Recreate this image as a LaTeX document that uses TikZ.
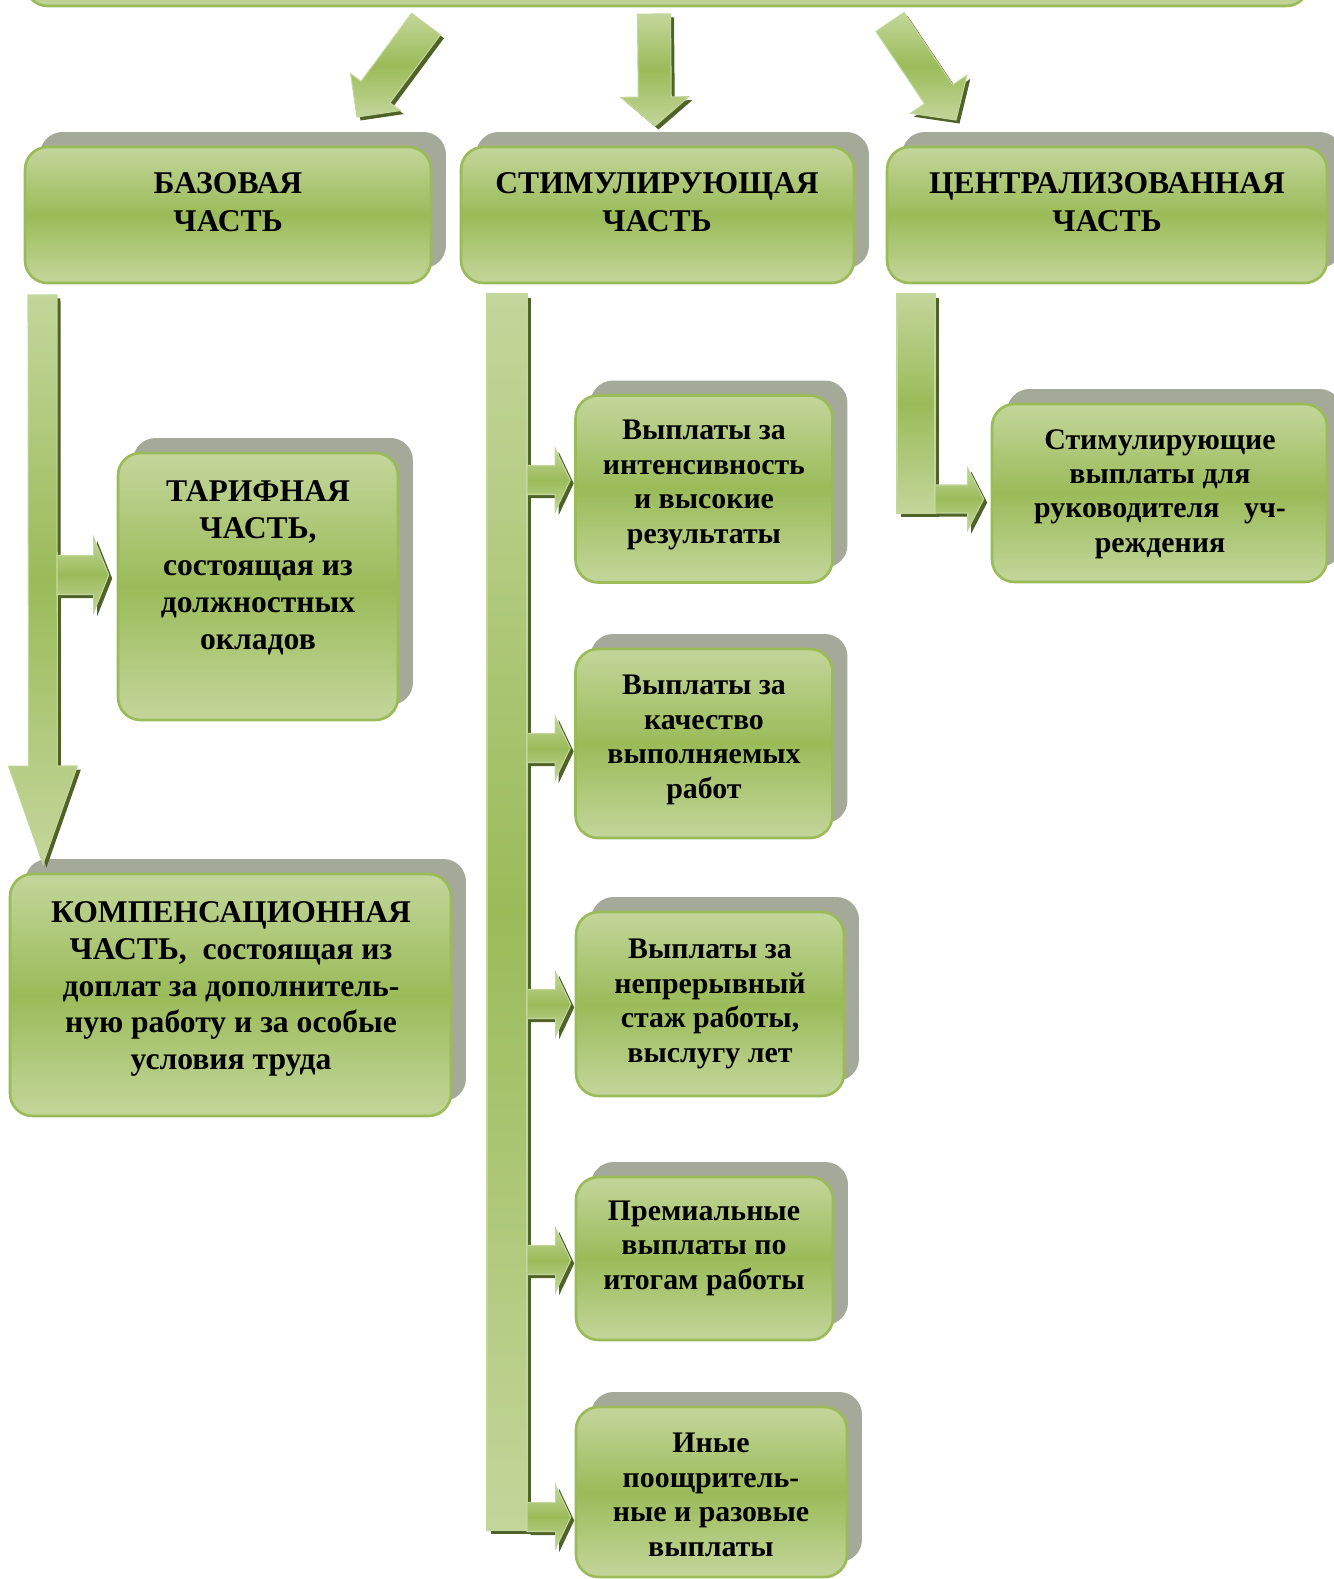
\documentclass[tikz,border=0pt]{standalone}
\usepackage{fontspec}
\setmainfont{Liberation Serif}
\usetikzlibrary{positioning, calc, shadows}
\definecolor{MyOliveLight}{HTML}{C3D69B}
\definecolor{MyOlive}{HTML}{9BBB59}
\definecolor{MyOliveDark}{HTML}{4F6228}
\definecolor{MyShadow}{HTML}{A5A99A}

% block arrow: from, to, half shaft, half head, head length
\newcommand{\flowarrow}[5]{%
	\path[flow] ($(#1)!#3!90:(#2)$) -- ($(#2)!#5!(#1)!#3!-90:(#1)$) -- ($(#2)!#5!(#1)!#4!-90:(#1)$) -- (#2)
		-- ($(#2)!#5!(#1)!#4!90:(#1)$) -- ($(#2)!#5!(#1)!#3!90:(#1)$) -- ($(#1)!#3!-90:(#2)$) -- cycle;}

\begin{document}
\begin{tikzpicture}[x=0.02cm, y=-0.02cm,
	part/.style={draw=MyOlive, line width=1.5pt, rounded corners=0.45cm, inner sep=0pt, top color=MyOliveLight, bottom color=MyOliveLight, middle color=MyOlive, general shadow={fill=MyShadow, shadow xshift=0.3cm, shadow yshift=0.3cm}},
	flow/.style={draw=MyOliveLight, line width=0.6pt, top color=MyOliveLight, bottom color=MyOliveLight, middle color=MyOlive, preaction={fill=MyOliveDark, transform canvas={xshift=0.07cm, yshift=-0.07cm}}},
	headtext/.style={inner sep=0pt, align=center, font=\bfseries\fontsize{18}{21.5}\selectfont},
	bigtext/.style={inner sep=0pt, align=center, font=\bfseries\fontsize{18}{21}\selectfont},
	paytext/.style={inner sep=0pt, align=center, font=\bfseries\fontsize{17}{19.6}\selectfont}]
	\useasboundingbox (0,0) rectangle (1334,1579);
	
	\node[part, minimum width=25.68cm, minimum height=2cm] (fund) at (667,-44) {};
	%
	\node[part, minimum width=8.12cm, minimum height=2.72cm] (base) at (228,215) {};
	\node[headtext] (base-t) at (228,202) {БАЗОВАЯ\\ЧАСТЬ};
	%
	\node[part, minimum width=7.86cm, minimum height=2.72cm] (stim) at (657.5,215) {};
	\node[headtext] (stim-t) at (657,202) {СТИМУЛИРУЮЩАЯ\\ЧАСТЬ};
	%
	\node[part, minimum width=8.8cm, minimum height=2.72cm] (centr) at (1107,215) {};
	\node[headtext] (centr-t) at (1107,202) {ЦЕНТРАЛИЗОВАННАЯ\\ЧАСТЬ};
	%
	\node[part, minimum width=5.6cm, minimum height=5.34cm] (tarif) at (258,586.5) {};
	\node[bigtext] (tarif-t) at (258,568) {ТАРИФНАЯ\\ЧАСТЬ,\\состоящая из\\должностных\\окладов};
	%
	\node[part, minimum width=8.82cm, minimum height=4.84cm] (comp) at (230.5,995) {};
	\node[bigtext] (comp-t) at (231,989) {КОМПЕНСАЦИОННАЯ\\ЧАСТЬ,\ \ состоящая из\\доплат за дополнитель-\\ную работу и за особые\\условия труда};
	%
	\node[part, minimum width=5.14cm, minimum height=3.74cm] (pay1) at (704,489) {};
	\node[paytext] (pay1-t) at (704,485) {Выплаты за\\интенсивность\\и высокие\\результаты};
	%
	\node[part, minimum width=5.14cm, minimum height=3.78cm] (pay2) at (704,743.5) {};
	\node[paytext] (pay2-t) at (704,740) {Выплаты за\\качество\\выполняемых\\работ};
	%
	\node[part, minimum width=5.36cm, minimum height=3.68cm] (pay3) at (710,1004) {};
	\node[paytext] (pay3-t) at (710,1004) {Выплаты за\\непрерывный\\стаж работы,\\выслугу лет};
	%
	\node[part, minimum width=5.14cm, minimum height=3.26cm] (pay4) at (704.5,1258.5) {};
	\node[paytext] (pay4-t) at (704,1248) {Премиальные\\выплаты по\\итогам работы};
	%
	\node[part, minimum width=5.42cm, minimum height=3.4cm] (pay5) at (711.5,1492) {};
	\node[paytext] (pay5-t) at (711,1495) {Иные\\поощритель-\\ные и разовые\\выплаты};
	%
	\node[part, minimum width=6.7cm, minimum height=3.56cm] (head) at (1159.5,493) {};
	\node[paytext] (head-t) at (1160,494) {Стимулирующие\\выплаты для\\руководителя\hspace{14pt}уч-\\реждения};
	
	% arrows from the top block
	\coordinate (fund-l) at (426,24);
	\coordinate (base-in) at (357,117);
	\flowarrow{fund-l}{base-in}{0.36cm}{0.62cm}{0.62cm}
	%
	\coordinate (fund-m) at (654,14);
	\coordinate (stim-in) at (655,126);
	\flowarrow{fund-m}{stim-in}{0.33cm}{0.68cm}{0.58cm}
	%
	\coordinate (fund-r) at (890,22);
	\coordinate (centr-in) at (956,120);
	\flowarrow{fund-r}{centr-in}{0.34cm}{0.68cm}{0.62cm}
	
	% base part
	\coordinate (base-out) at (42.5,295);
	\coordinate (comp-in) at (43,864);
	\flowarrow{base-out}{comp-in}{0.29cm}{0.69cm}{1.96cm}
	\coordinate (tarif-j) at (57,575);
	\coordinate (tarif-in) at ($(tarif-j -| tarif.west)+(-8,0)$);
	\flowarrow{tarif-j}{tarif-in}{0.39cm}{0.75cm}{0.3cm}
	
	% stimulating part
	\path[flow] (487,294) rectangle (527,1530);
	\foreach \b/\y in {pay1/480, pay2/748, pay3/1004, pay4/1260, pay5/1517}{
		\coordinate (\b-j) at (527,\y);
		\coordinate (\b-in) at ($(\b-j -| \b.west)+(-4,0)$);
		\flowarrow{\b-j}{\b-in}{0.29cm}{0.63cm}{0.3cm}
	}
	
	% centralized part
	\path[flow] (897,294) rectangle (935,513);
	\coordinate (head-j) at (935,499);
	\coordinate (head-in) at ($(head-j -| head.west)+(-7,0)$);
	\flowarrow{head-j}{head-in}{0.28cm}{0.62cm}{0.32cm}
\end{tikzpicture}
\end{document}
